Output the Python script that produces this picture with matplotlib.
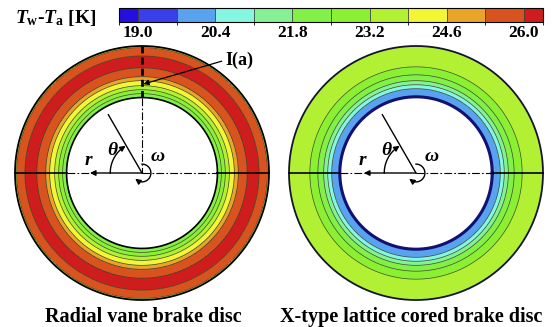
import numpy as np
import matplotlib
matplotlib.use('Agg')
import matplotlib.pyplot as plt
from matplotlib.colors import ListedColormap, BoundaryNorm
from matplotlib.cm import ScalarMappable

plt.rcParams['font.family'] = ['Liberation Serif', 'DejaVu Serif']
plt.rcParams['mathtext.fontset'] = 'custom'
plt.rcParams['mathtext.rm'] = 'Liberation Serif:bold'
plt.rcParams['mathtext.it'] = 'Liberation Serif:italic:bold'
plt.rcParams['mathtext.bf'] = 'Liberation Serif:bold'

# colour scale of Tw - Ta [K] (first/last bins are the out-of-range ends)
level_edges = [18.65, 19.0, 19.7, 20.4, 21.1, 21.8, 22.5, 23.2, 23.9, 24.6, 25.3, 26.0, 26.35]
level_colors = ['#2410de', '#3a3fea', '#58a2f0', '#84f6e2', '#84f294', '#82f046',
                '#8cf032', '#b2f034', '#f2f634', '#e9a52a', '#d9531f', '#cf1c1c']
tick_values = [19.0, 20.4, 21.8, 23.2, 24.6, 26.0]

# radial temperature bands, radius as r / r_outer
radial_edges = [0.594, 0.625, 0.656, 0.688, 0.727, 0.758, 0.828, 0.922, 0.988, 1.0]
radial_temps = [22.2, 22.8, 23.5, 24.2, 25.0, 25.6, 26.3, 25.6, 24.2]

xtype_edges = [0.60, 0.664, 0.695, 0.727, 0.773, 0.836, 1.0]
xtype_temps = [20.0, 20.8, 21.5, 22.1, 22.8, 23.5]

disc_names = ['Radial vane brake disc', 'X-type lattice cored brake disc']

cmap = ListedColormap(level_colors)
norm = BoundaryNorm(level_edges, cmap.N)

W, H = 553, 327
fig = plt.figure(figsize=(W / 100, H / 100), dpi=100)

L = 1.1          # half-extent of each disc axes (data units)
R_PX = 127       # outer radius in pixels
theta = np.linspace(0, 2 * np.pi, 721)


def disc_axes(cx, cy):
    half = R_PX * L
    ax = fig.add_axes([(cx - half) / W, (H - cy - half) / H, 2 * half / W, 2 * half / H])
    ax.set_xlim(-L, L)
    ax.set_ylim(-L, L)
    ax.axis('off')
    ax.patch.set_visible(False)
    return ax


def arrow_head(ax, p0, p1, lw=1.0):
    ax.annotate('', xy=p1, xytext=p0,
                arrowprops=dict(arrowstyle='-|>', color='k', lw=lw,
                                mutation_scale=8, shrinkA=0, shrinkB=0))


def draw_disc(ax, edges, temps, inner_color, inner_lw, outer_color):
    T, Rg = np.meshgrid(theta, np.array(edges))
    C = np.repeat(np.array(temps)[:, None], len(theta) - 1, axis=1)
    ax.pcolormesh(Rg * np.cos(T), Rg * np.sin(T), C, cmap=cmap, norm=norm,
                  shading='flat', antialiased=False)
    for r in edges[1:-1]:
        ax.plot(r * np.cos(theta), r * np.sin(theta), color='#3c4a30', lw=0.5)
    ax.plot(edges[-1] * np.cos(theta), edges[-1] * np.sin(theta), color=outer_color, lw=1.3)
    ax.plot(edges[0] * np.cos(theta), edges[0] * np.sin(theta), color=inner_color, lw=inner_lw)

    r_in = edges[0]
    dashdot = (0, (7, 2, 1.5, 2))
    # horizontal diameter
    ax.plot([-1, -r_in], [0, 0], color='k', lw=1.2)
    ax.plot([r_in, 1], [0, 0], color='k', lw=1.2)
    ax.plot([-r_in, -0.40], [0, 0], color='k', lw=0.8, ls=dashdot)
    ax.plot([0, r_in], [0, 0], color='k', lw=0.8, ls=dashdot)
    arrow_head(ax, (0, 0), (-0.41, 0))
    ax.text(-0.42, 0.03, 'r', fontsize=14, fontstyle='italic', fontweight='bold',
            ha='center', va='bottom')

    # theta line and angle arc
    a = np.deg2rad(120)
    ax.plot([0, 0.53 * np.cos(a)], [0, 0.53 * np.sin(a)], color='k', lw=1.0)
    arc = np.deg2rad(np.linspace(180, 126, 40))
    ax.plot(0.25 * np.cos(arc), 0.25 * np.sin(arc), color='k', lw=1.0)
    arrow_head(ax, (0.25 * np.cos(arc[-3]), 0.25 * np.sin(arc[-3])),
               (0.25 * np.cos(np.deg2rad(121)), 0.25 * np.sin(np.deg2rad(121))))
    ax.text(-0.235, 0.175, 'θ', fontsize=14, fontstyle='italic', fontweight='bold',
            ha='center', va='center')

    # rotation omega
    w = np.deg2rad(np.linspace(90, -125, 60))
    rw = 0.07
    ax.plot(rw * np.cos(w), rw * np.sin(w), color='k', lw=1.0)
    arrow_head(ax, (rw * np.cos(w[-4]), rw * np.sin(w[-4])),
               (rw * np.cos(np.deg2rad(-140)), rw * np.sin(np.deg2rad(-140))))
    ax.text(0.12, 0.13, 'ω', fontsize=14, fontstyle='italic', fontweight='bold',
            ha='center', va='center')


ax1 = disc_axes(142, 173)
draw_disc(ax1, radial_edges, radial_temps, 'k', 1.2, 'k')
r_in = radial_edges[0]
ax1.plot([0, 0], [1, r_in], color='k', lw=2.0, ls=(0, (2.5, 1.5)))
ax1.plot([0, 0], [r_in, 0], color='k', lw=0.8, ls=(0, (7, 2, 1.5, 2)))
ax1.annotate('I(a)', xy=(0.01, 0.70), xytext=(0.66, 0.89), fontsize=13,
             fontweight='bold', ha='left', va='center',
             arrowprops=dict(arrowstyle='-|>', color='k', lw=0.9, mutation_scale=8,
                             shrinkA=1, shrinkB=0, relpos=(0, 0.5)))

ax2 = disc_axes(416, 173)
draw_disc(ax2, xtype_edges, xtype_temps, '#121070', 2.2, '#141430')

# colour bar
cax = fig.add_axes([119 / W, (H - 22) / H, 424 / W, 14 / H])
cb = fig.colorbar(ScalarMappable(norm=norm, cmap=cmap), cax=cax, orientation='horizontal',
                  ticks=tick_values, spacing='proportional', drawedges=True)
cb.outline.set_linewidth(0.8)
cb.dividers.set_linewidth(0.6)
cb.dividers.set_color('#404040')
cax.tick_params(length=0, pad=2, labelsize=12.5)
cax.set_xticklabels([f'{v:.1f}' for v in tick_values], fontweight='bold')

fig.text(15 / W, (H - 23) / H, r'$T_{\mathrm{w}}$-$T_{\mathrm{a}}$ [K]', fontsize=14,
         fontweight='bold', ha='left', va='baseline')

fig.text(143 / W, 5 / H, disc_names[0], fontsize=14.5, fontweight='bold',
         ha='center', va='baseline')
fig.text(411 / W, 5 / H, disc_names[1], fontsize=14.5, fontweight='bold',
         ha='center', va='baseline')

fig.savefig('out.png', dpi=100)
